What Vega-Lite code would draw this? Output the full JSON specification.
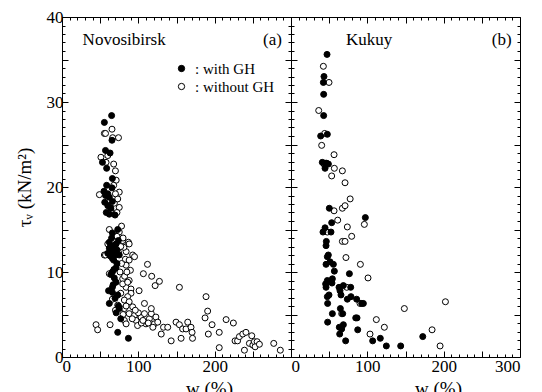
{
"$schema": "https://vega.github.io/schema/vega-lite/v6.json",
"autosize": {"type": "pad"},
"padding": {"left": 14, "top": 7, "right": 5, "bottom": 0},
"background": "white",
"spacing": 0,
"bounds": "flush",
"config": {
  "view": {"stroke": "black", "strokeWidth": 1},
  "axis": {"grid": false, "domain": false, "tickColor": "black", "labelColor": "black", "titleColor": "black", "labelFont": "Liberation Serif", "labelFontSize": 17, "titleFont": "Liberation Serif", "titleFontSize": 19, "titleFontWeight": "normal", "labelPadding": 10}
},
"datasets": {
"pts": [
{"p":"a","g":"without GH","w":65.5,"t":26.8},{"p":"a","g":"without GH","w":55.5,"t":26.3},{"p":"a","g":"without GH","w":57,"t":26.3},{"p":"a","g":"without GH","w":66.4,"t":25.8},{"p":"a","g":"without GH","w":74,"t":25.8},{"p":"a","g":"without GH","w":51,"t":23.5},{"p":"a","g":"without GH","w":60,"t":23.7},{"p":"a","g":"without GH","w":57.7,"t":22.9},{"p":"a","g":"without GH","w":67.7,"t":22.7},{"p":"a","g":"without GH","w":70,"t":21.9},{"p":"a","g":"without GH","w":71,"t":20.8},{"p":"a","g":"without GH","w":67.7,"t":20.2},{"p":"a","g":"without GH","w":75,"t":19.4},{"p":"a","g":"without GH","w":49,"t":19.1},
{"p":"a","g":"without GH","w":61,"t":18.5},{"p":"a","g":"without GH","w":68.6,"t":18.1},{"p":"a","g":"without GH","w":75,"t":17.6},{"p":"a","g":"without GH","w":73,"t":18.6},{"p":"a","g":"without GH","w":64,"t":17.3},{"p":"a","g":"without GH","w":70,"t":19.2},{"p":"a","g":"without GH","w":72,"t":17.0},
{"p":"a","g":"without GH","w":62,"t":15.0},{"p":"a","g":"without GH","w":78,"t":15.4},{"p":"a","g":"without GH","w":60,"t":13.3},{"p":"a","g":"without GH","w":55.5,"t":12.0},{"p":"a","g":"without GH","w":75,"t":14.7},{"p":"a","g":"without GH","w":79.5,"t":13.7},{"p":"a","g":"without GH","w":87,"t":13.5},{"p":"a","g":"without GH","w":88,"t":13.3},{"p":"a","g":"without GH","w":92.6,"t":12.0},{"p":"a","g":"without GH","w":95,"t":11.8},{"p":"a","g":"without GH","w":84,"t":12.4},{"p":"a","g":"without GH","w":81,"t":12.9},{"p":"a","g":"without GH","w":57,"t":12.0},{"p":"a","g":"without GH","w":72,"t":14.2},{"p":"a","g":"without GH","w":77,"t":13.0},{"p":"a","g":"without GH","w":83,"t":11.5},{"p":"a","g":"without GH","w":80,"t":14.0},{"p":"a","g":"without GH","w":74,"t":12.3},
{"p":"a","g":"without GH","w":62,"t":9.8},{"p":"a","g":"without GH","w":84,"t":10.8},{"p":"a","g":"without GH","w":88,"t":11.4},{"p":"a","g":"without GH","w":89.6,"t":10.2},{"p":"a","g":"without GH","w":88,"t":9.0},{"p":"a","g":"without GH","w":84,"t":8.2},{"p":"a","g":"without GH","w":90.4,"t":8.0},{"p":"a","g":"without GH","w":90.4,"t":7.5},{"p":"a","g":"without GH","w":86,"t":7.1},{"p":"a","g":"without GH","w":81.7,"t":6.7},{"p":"a","g":"without GH","w":88,"t":6.5},{"p":"a","g":"without GH","w":81.7,"t":5.7},{"p":"a","g":"without GH","w":73,"t":6.1},{"p":"a","g":"without GH","w":92.6,"t":5.9},{"p":"a","g":"without GH","w":108,"t":6.3},{"p":"a","g":"without GH","w":101,"t":7.8},{"p":"a","g":"without GH","w":106.6,"t":9.8},{"p":"a","g":"without GH","w":112,"t":10.9},{"p":"a","g":"without GH","w":117.5,"t":9.5},{"p":"a","g":"without GH","w":122,"t":8.4},{"p":"a","g":"without GH","w":127.6,"t":8.9},{"p":"a","g":"without GH","w":153.8,"t":8.2},{"p":"a","g":"without GH","w":79.5,"t":9.2},{"p":"a","g":"without GH","w":79.5,"t":8.6},{"p":"a","g":"without GH","w":76,"t":10.0},{"p":"a","g":"without GH","w":82,"t":9.5},{"p":"a","g":"without GH","w":85,"t":10.0},{"p":"a","g":"without GH","w":78,"t":11.0},{"p":"a","g":"without GH","w":86,"t":8.8},{"p":"a","g":"without GH","w":77,"t":7.5},{"p":"a","g":"without GH","w":84,"t":6.0},{"p":"a","g":"without GH","w":80,"t":5.0},{"p":"a","g":"without GH","w":66,"t":6.8},{"p":"a","g":"without GH","w":70,"t":5.5},
{"p":"a","g":"without GH","w":44.6,"t":3.8},{"p":"a","g":"without GH","w":46.7,"t":3.2},{"p":"a","g":"without GH","w":63,"t":3.8},{"p":"a","g":"without GH","w":81.7,"t":4.3},{"p":"a","g":"without GH","w":84,"t":3.9},{"p":"a","g":"without GH","w":88,"t":5.1},{"p":"a","g":"without GH","w":95,"t":4.9},{"p":"a","g":"without GH","w":97,"t":4.3},{"p":"a","g":"without GH","w":99,"t":3.7},{"p":"a","g":"without GH","w":103.5,"t":4.7},{"p":"a","g":"without GH","w":108,"t":5.1},{"p":"a","g":"without GH","w":110,"t":3.9},{"p":"a","g":"without GH","w":114.5,"t":4.5},{"p":"a","g":"without GH","w":117,"t":5.1},{"p":"a","g":"without GH","w":117,"t":5.7},{"p":"a","g":"without GH","w":121,"t":3.9},{"p":"a","g":"without GH","w":123,"t":4.7},{"p":"a","g":"without GH","w":119,"t":3.5},{"p":"a","g":"without GH","w":125.4,"t":4.1},{"p":"a","g":"without GH","w":130,"t":2.7},{"p":"a","g":"without GH","w":133,"t":3.5},{"p":"a","g":"without GH","w":138.5,"t":3.5},{"p":"a","g":"without GH","w":143,"t":1.9},{"p":"a","g":"without GH","w":149.4,"t":4.1},{"p":"a","g":"without GH","w":153.8,"t":3.8},{"p":"a","g":"without GH","w":156,"t":2.2},{"p":"a","g":"without GH","w":158,"t":3.3},{"p":"a","g":"without GH","w":162.5,"t":3.3},{"p":"a","g":"without GH","w":164.7,"t":4.1},{"p":"a","g":"without GH","w":169,"t":3.5},{"p":"a","g":"without GH","w":170.4,"t":2.9},{"p":"a","g":"without GH","w":171,"t":2.2},{"p":"a","g":"without GH","w":188.7,"t":7.1},{"p":"a","g":"without GH","w":190.8,"t":5.4},{"p":"a","g":"without GH","w":187.4,"t":4.6},{"p":"a","g":"without GH","w":191.7,"t":2.7},{"p":"a","g":"without GH","w":196.6,"t":3.8},{"p":"a","g":"without GH","w":206,"t":2.9},{"p":"a","g":"without GH","w":206,"t":1.1},{"p":"a","g":"without GH","w":215,"t":4.4},{"p":"a","g":"without GH","w":224.5,"t":4.0},{"p":"a","g":"without GH","w":226.7,"t":1.9},{"p":"a","g":"without GH","w":230,"t":1.9},{"p":"a","g":"without GH","w":232.4,"t":2.4},{"p":"a","g":"without GH","w":236.8,"t":2.7},{"p":"a","g":"without GH","w":241,"t":2.9},{"p":"a","g":"without GH","w":239,"t":0.8},{"p":"a","g":"without GH","w":248.6,"t":2.5},{"p":"a","g":"without GH","w":245.5,"t":1.6},{"p":"a","g":"without GH","w":250,"t":1.4},{"p":"a","g":"without GH","w":252,"t":1.8},{"p":"a","g":"without GH","w":255.6,"t":1.8},{"p":"a","g":"without GH","w":253,"t":1.2},{"p":"a","g":"without GH","w":258.6,"t":1.5},{"p":"a","g":"without GH","w":277.4,"t":1.6},{"p":"a","g":"without GH","w":286,"t":0.8},{"p":"a","g":"without GH","w":92,"t":4.5},{"p":"a","g":"without GH","w":104,"t":4.0},{"p":"a","g":"without GH","w":100,"t":5.2},{"p":"a","g":"without GH","w":113,"t":4.0},{"p":"a","g":"without GH","w":96,"t":5.5},{"p":"a","g":"without GH","w":106,"t":4.3},
{"p":"a","g":"with GH","w":55.5,"t":27.6},{"p":"a","g":"with GH","w":65,"t":28.4},{"p":"a","g":"with GH","w":65.5,"t":25.5},{"p":"a","g":"with GH","w":57,"t":24.3},{"p":"a","g":"with GH","w":63,"t":24.0},{"p":"a","g":"with GH","w":53,"t":22.9},{"p":"a","g":"with GH","w":58.5,"t":22.2},{"p":"a","g":"with GH","w":66,"t":21.0},{"p":"a","g":"with GH","w":58.5,"t":20.2},{"p":"a","g":"with GH","w":65.5,"t":19.9},{"p":"a","g":"with GH","w":60,"t":19.2},
{"p":"a","g":"with GH","w":55,"t":19.5},{"p":"a","g":"with GH","w":57,"t":19.0},{"p":"a","g":"with GH","w":62,"t":18.8},{"p":"a","g":"with GH","w":56,"t":18.2},{"p":"a","g":"with GH","w":60,"t":17.8},{"p":"a","g":"with GH","w":64,"t":17.5},{"p":"a","g":"with GH","w":62,"t":16.8},{"p":"a","g":"with GH","w":69.5,"t":16.7},{"p":"a","g":"with GH","w":58,"t":17.0},{"p":"a","g":"with GH","w":66,"t":18.3},
{"p":"a","g":"with GH","w":66,"t":14.6},{"p":"a","g":"with GH","w":73,"t":15.0},{"p":"a","g":"with GH","w":64,"t":13.1},{"p":"a","g":"with GH","w":70.8,"t":13.3},{"p":"a","g":"with GH","w":66,"t":12.4},{"p":"a","g":"with GH","w":68.5,"t":12.7},{"p":"a","g":"with GH","w":73.8,"t":13.7},{"p":"a","g":"with GH","w":66,"t":11.6},{"p":"a","g":"with GH","w":67.7,"t":11.4},{"p":"a","g":"with GH","w":75,"t":12.0},{"p":"a","g":"with GH","w":62,"t":13.5},{"p":"a","g":"with GH","w":60,"t":12.2},{"p":"a","g":"with GH","w":63,"t":11.9},{"p":"a","g":"with GH","w":70,"t":12.0},{"p":"a","g":"with GH","w":68,"t":13.0},{"p":"a","g":"with GH","w":72,"t":12.6},{"p":"a","g":"with GH","w":65,"t":14.0},{"p":"a","g":"with GH","w":62,"t":12.8},
{"p":"a","g":"with GH","w":66,"t":10.0},{"p":"a","g":"with GH","w":68.5,"t":9.3},{"p":"a","g":"with GH","w":70.8,"t":8.8},{"p":"a","g":"with GH","w":66,"t":8.2},{"p":"a","g":"with GH","w":66,"t":7.6},{"p":"a","g":"with GH","w":73,"t":7.3},{"p":"a","g":"with GH","w":69.5,"t":6.9},{"p":"a","g":"with GH","w":62,"t":6.3},{"p":"a","g":"with GH","w":75,"t":5.7},{"p":"a","g":"with GH","w":77,"t":4.5},{"p":"a","g":"with GH","w":73,"t":2.9},{"p":"a","g":"with GH","w":87,"t":2.2},{"p":"a","g":"with GH","w":70.8,"t":10.5},{"p":"a","g":"with GH","w":72,"t":11.0},{"p":"a","g":"with GH","w":64,"t":9.7},{"p":"a","g":"with GH","w":68,"t":10.3},{"p":"a","g":"with GH","w":61,"t":7.8},{"p":"a","g":"with GH","w":74,"t":6.0},{"p":"a","g":"with GH","w":71,"t":5.2},{"p":"a","g":"with GH","w":67,"t":8.5},
{"p":"b","g":"without GH","w":42.4,"t":34.2},{"p":"b","g":"without GH","w":49.8,"t":32.3},{"p":"b","g":"without GH","w":36.3,"t":29.0},{"p":"b","g":"without GH","w":44.1,"t":26.3},{"p":"b","g":"without GH","w":40.2,"t":24.9},{"p":"b","g":"without GH","w":56.4,"t":23.8},{"p":"b","g":"without GH","w":43.2,"t":22.7},{"p":"b","g":"without GH","w":56.8,"t":22.2},{"p":"b","g":"without GH","w":67.3,"t":21.9},{"p":"b","g":"without GH","w":53.3,"t":21.3},{"p":"b","g":"without GH","w":70.8,"t":20.5},{"p":"b","g":"without GH","w":77.5,"t":18.6},{"p":"b","g":"without GH","w":56.4,"t":17.2},{"p":"b","g":"without GH","w":67.3,"t":17.5},{"p":"b","g":"without GH","w":70.8,"t":17.8},{"p":"b","g":"without GH","w":61.2,"t":16.1},{"p":"b","g":"without GH","w":96.1,"t":15.6},{"p":"b","g":"without GH","w":73.8,"t":15.3},{"p":"b","g":"without GH","w":47.6,"t":14.7},{"p":"b","g":"without GH","w":79.5,"t":14.2},{"p":"b","g":"without GH","w":67.3,"t":13.6},{"p":"b","g":"without GH","w":70.8,"t":13.6},{"p":"b","g":"without GH","w":72,"t":11.7},{"p":"b","g":"without GH","w":90.9,"t":10.9},{"p":"b","g":"without GH","w":100.9,"t":9.3},{"p":"b","g":"without GH","w":73,"t":8.2},{"p":"b","g":"without GH","w":90.4,"t":6.3},{"p":"b","g":"without GH","w":202.3,"t":6.5},{"p":"b","g":"without GH","w":148.5,"t":5.7},{"p":"b","g":"without GH","w":66.4,"t":5.1},{"p":"b","g":"without GH","w":111.8,"t":4.4},{"p":"b","g":"without GH","w":122.3,"t":3.5},{"p":"b","g":"without GH","w":184.8,"t":3.2},{"p":"b","g":"without GH","w":103.5,"t":2.7},{"p":"b","g":"without GH","w":195.3,"t":1.3},
{"p":"b","g":"with GH","w":47.2,"t":35.6},{"p":"b","g":"with GH","w":43.2,"t":33.0},{"p":"b","g":"with GH","w":42.4,"t":32.3},{"p":"b","g":"with GH","w":42.8,"t":30.9},{"p":"b","g":"with GH","w":42.8,"t":28.4},{"p":"b","g":"with GH","w":38.9,"t":26.0},{"p":"b","g":"with GH","w":47.6,"t":26.2},{"p":"b","g":"with GH","w":41,"t":22.9},{"p":"b","g":"with GH","w":44.6,"t":22.8},{"p":"b","g":"with GH","w":46.7,"t":22.8},{"p":"b","g":"with GH","w":49,"t":22.7},{"p":"b","g":"with GH","w":44.6,"t":22.2},{"p":"b","g":"with GH","w":50.2,"t":17.5},{"p":"b","g":"with GH","w":53.3,"t":15.8},{"p":"b","g":"with GH","w":97.4,"t":16.4},{"p":"b","g":"with GH","w":44.6,"t":15.2},{"p":"b","g":"with GH","w":41.9,"t":14.7},{"p":"b","g":"with GH","w":52.4,"t":14.7},{"p":"b","g":"with GH","w":46.3,"t":13.6},{"p":"b","g":"with GH","w":45.9,"t":13.1},{"p":"b","g":"with GH","w":48.9,"t":12.0},{"p":"b","g":"with GH","w":47.6,"t":11.8},{"p":"b","g":"with GH","w":45.9,"t":10.9},{"p":"b","g":"with GH","w":51.1,"t":11.2},{"p":"b","g":"with GH","w":55.5,"t":10.9},{"p":"b","g":"with GH","w":56.8,"t":10.1},{"p":"b","g":"with GH","w":76.5,"t":9.8},{"p":"b","g":"with GH","w":54.2,"t":9.2},{"p":"b","g":"with GH","w":47.6,"t":9.0},{"p":"b","g":"with GH","w":45.4,"t":8.6},{"p":"b","g":"with GH","w":45.9,"t":8.2},{"p":"b","g":"with GH","w":53.7,"t":8.7},{"p":"b","g":"with GH","w":62.9,"t":8.2},{"p":"b","g":"with GH","w":64.2,"t":7.8},{"p":"b","g":"with GH","w":68.6,"t":8.4},{"p":"b","g":"with GH","w":78.2,"t":8.2},{"p":"b","g":"with GH","w":65.5,"t":7.3},{"p":"b","g":"with GH","w":49.8,"t":7.3},{"p":"b","g":"with GH","w":47.6,"t":7.1},{"p":"b","g":"with GH","w":73.8,"t":6.8},{"p":"b","g":"with GH","w":78.6,"t":7.1},{"p":"b","g":"with GH","w":86,"t":6.8},{"p":"b","g":"with GH","w":92.6,"t":6.3},{"p":"b","g":"with GH","w":94.8,"t":6.3},{"p":"b","g":"with GH","w":48,"t":6.3},{"p":"b","g":"with GH","w":64.7,"t":5.7},{"p":"b","g":"with GH","w":54.2,"t":5.1},{"p":"b","g":"with GH","w":67.7,"t":5.1},{"p":"b","g":"with GH","w":84.8,"t":4.6},{"p":"b","g":"with GH","w":86.5,"t":4.6},{"p":"b","g":"with GH","w":48,"t":4.1},{"p":"b","g":"with GH","w":63.3,"t":3.5},{"p":"b","g":"with GH","w":66.4,"t":3.3},{"p":"b","g":"with GH","w":68.6,"t":3.8},{"p":"b","g":"with GH","w":87.4,"t":3.2},{"p":"b","g":"with GH","w":63.8,"t":2.7},{"p":"b","g":"with GH","w":172.6,"t":2.4},{"p":"b","g":"with GH","w":117,"t":2.2},{"p":"b","g":"with GH","w":71.6,"t":1.9},{"p":"b","g":"with GH","w":107,"t":1.9},{"p":"b","g":"with GH","w":124.9,"t":1.3},{"p":"b","g":"with GH","w":143.7,"t":1.3}
]
},
"hconcat": [
{
  "width": 229, "height": 340,
  "data": {"name": "pts"},
  "transform": [{"filter": "datum.p == 'a'"}],
  "resolve": {"axis": {"x": "independent", "y": "independent"}},
  "layer": [
    {"mark": {"type": "point", "shape": "circle", "filled": true, "stroke": "black", "strokeWidth": 1, "size": 36, "opacity": 1},
     "encoding": {
       "x": {"field": "w", "type": "quantitative", "scale": {"domain": [0, 300], "nice": false}, "axis": {"orient": "bottom", "values": [0,50,100,150,200,250,300], "labelExpr": "datum.value % 100 == 0 && datum.value < 300 ? datum.label : ''", "tickSize": -6, "labelPadding": 7, "title": "w (%)", "titleX": 147, "titleY": 22, "titleBaseline": "top"}},
       "y": {"field": "t", "type": "quantitative", "scale": {"domain": [0, 40], "nice": false}, "axis": {"orient": "left", "values": [0,5,10,15,20,25,30,35,40], "labelExpr": "datum.value % 10 == 0 ? datum.label : ''", "tickSize": -6, "labelPadding": 5, "title": "τᵥ (kN/m²)", "titlePadding": 12}},
       "fill": {"field": "g", "type": "nominal", "scale": {"domain": ["with GH", "without GH"], "range": ["black", "white"]},
         "legend": {"orient": "none", "legendX": 112, "legendY": 44, "title": null, "labelExpr": "': ' + datum.label", "labelFont": "Liberation Serif", "labelFontSize": 15, "labelColor": "black", "symbolSize": 40, "symbolType": "circle", "symbolStrokeColor": "black", "symbolStrokeWidth": 1, "rowPadding": 2, "labelOffset": 6}}
     }},
    {"mark": {"type": "point", "opacity": 0},
     "encoding": {
       "x": {"field": "w", "type": "quantitative", "axis": {"orient": "bottom", "values": [0,10,20,30,40,60,70,80,90,110,120,130,140,160,170,180,190,210,220,230,240,260,270,280,290], "labels": false, "tickSize": -3, "title": null}},
       "y": {"field": "t", "type": "quantitative", "axis": {"orient": "left", "values": [1,2,3,4,6,7,8,9,11,12,13,14,16,17,18,19,21,22,23,24,26,27,28,29,31,32,33,34,36,37,38,39], "labels": false, "tickSize": -3, "title": null}}
     }},
    {"mark": {"type": "point", "opacity": 0},
     "encoding": {
       "x": {"field": "w", "type": "quantitative", "axis": {"orient": "top", "values": [0,50,100,150,200,250,300], "labels": false, "tickSize": -6, "title": null}},
       "y": {"field": "t", "type": "quantitative", "axis": {"orient": "right", "values": [0,5,10,15,20,25,30,35,40], "labels": false, "tickSize": -6, "title": null}}
     }},
    {"mark": {"type": "point", "opacity": 0},
     "encoding": {
       "x": {"field": "w", "type": "quantitative", "axis": {"orient": "top", "values": [10,20,30,40,60,70,80,90,110,120,130,140,160,170,180,190,210,220,230,240,260,270,280,290], "labels": false, "tickSize": -3, "title": null}},
       "y": {"field": "t", "type": "quantitative", "axis": {"orient": "right", "values": [1,2,3,4,6,7,8,9,11,12,13,14,16,17,18,19,21,22,23,24,26,27,28,29,31,32,33,34,36,37,38,39], "labels": false, "tickSize": -3, "title": null}}
     }},
    {"data": {"values": [{}]},
     "mark": {"type": "text", "text": "Novosibirsk", "font": "Liberation Serif", "fontSize": 17, "align": "left", "baseline": "alphabetic", "color": "black"},
     "encoding": {"x": {"datum": 27, "type": "quantitative", "axis": null}, "y": {"datum": 36.7, "type": "quantitative", "axis": null}}},
    {"data": {"values": [{}]},
     "mark": {"type": "text", "text": "(a)", "font": "Liberation Serif", "fontSize": 17, "align": "right", "baseline": "alphabetic", "color": "black"},
     "encoding": {"x": {"datum": 288, "type": "quantitative", "axis": null}, "y": {"datum": 36.7, "type": "quantitative", "axis": null}}}
  ]
},
{
  "width": 229, "height": 340,
  "data": {"name": "pts"},
  "transform": [{"filter": "datum.p == 'b'"}],
  "resolve": {"axis": {"x": "independent", "y": "independent"}},
  "layer": [
    {"mark": {"type": "point", "shape": "circle", "filled": true, "stroke": "black", "strokeWidth": 1, "size": 36, "opacity": 1},
     "encoding": {
       "x": {"field": "w", "type": "quantitative", "scale": {"domain": [0, 300], "nice": false}, "axis": {"orient": "bottom", "values": [0,50,100,150,200,250,300], "labelExpr": "datum.value % 100 == 0 ? datum.label : ''", "tickSize": -6, "labelPadding": 7, "title": "w (%)", "titleX": 147, "titleY": 22, "titleBaseline": "top"}},
       "y": {"field": "t", "type": "quantitative", "scale": {"domain": [0, 40], "nice": false}, "axis": {"orient": "left", "values": [0,5,10,15,20,25,30,35,40], "labels": false, "tickSize": -6, "title": null}},
       "fill": {"field": "g", "type": "nominal", "scale": {"domain": ["with GH", "without GH"], "range": ["black", "white"]}, "legend": null}
     }},
    {"mark": {"type": "point", "opacity": 0},
     "encoding": {
       "x": {"field": "w", "type": "quantitative", "axis": {"orient": "bottom", "values": [10,20,30,40,60,70,80,90,110,120,130,140,160,170,180,190,210,220,230,240,260,270,280,290], "labels": false, "tickSize": -3, "title": null}},
       "y": {"field": "t", "type": "quantitative", "axis": {"orient": "left", "values": [1,2,3,4,6,7,8,9,11,12,13,14,16,17,18,19,21,22,23,24,26,27,28,29,31,32,33,34,36,37,38,39], "labels": false, "tickSize": -3, "title": null}}
     }},
    {"mark": {"type": "point", "opacity": 0},
     "encoding": {
       "x": {"field": "w", "type": "quantitative", "axis": {"orient": "top", "values": [0,50,100,150,200,250,300], "labels": false, "tickSize": -6, "title": null}},
       "y": {"field": "t", "type": "quantitative", "axis": {"orient": "right", "values": [0,5,10,15,20,25,30,35,40], "labels": false, "tickSize": -6, "title": null}}
     }},
    {"mark": {"type": "point", "opacity": 0},
     "encoding": {
       "x": {"field": "w", "type": "quantitative", "axis": {"orient": "top", "values": [10,20,30,40,60,70,80,90,110,120,130,140,160,170,180,190,210,220,230,240,260,270,280,290], "labels": false, "tickSize": -3, "title": null}},
       "y": {"field": "t", "type": "quantitative", "axis": {"orient": "right", "values": [1,2,3,4,6,7,8,9,11,12,13,14,16,17,18,19,21,22,23,24,26,27,28,29,31,32,33,34,36,37,38,39], "labels": false, "tickSize": -3, "title": null}}
     }},
    {"data": {"values": [{}]},
     "mark": {"type": "text", "text": "Kukuy", "font": "Liberation Serif", "fontSize": 17, "align": "left", "baseline": "alphabetic", "color": "black"},
     "encoding": {"x": {"datum": 72, "type": "quantitative", "axis": null}, "y": {"datum": 36.7, "type": "quantitative", "axis": null}}},
    {"data": {"values": [{}]},
     "mark": {"type": "text", "text": "(b)", "font": "Liberation Serif", "fontSize": 17, "align": "right", "baseline": "alphabetic", "color": "black"},
     "encoding": {"x": {"datum": 289, "type": "quantitative", "axis": null}, "y": {"datum": 36.7, "type": "quantitative", "axis": null}}}
  ]
}
]
}
